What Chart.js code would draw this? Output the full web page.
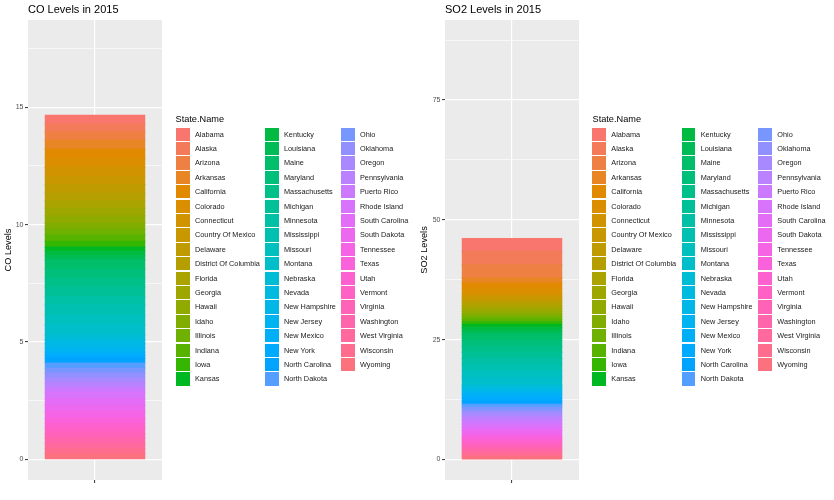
<!DOCTYPE html>
<html>
<head>
<meta charset="utf-8">
<script src="https://cdn.jsdelivr.net/npm/chart.js@4"></script>
<style>
  body { margin: 0; background: #fff; width: 834px; height: 500px; overflow: hidden; position: relative;
         font-family: "Liberation Sans", Arial, sans-serif; }
  canvas { position: absolute; top: 0; }
  .legend { position: absolute; top: 0; left: 0; width: 834px; height: 500px; will-change: transform; }
  .legend .ttl { position: absolute; font-size: 9.2px; color: #000; line-height: 12px; }
  .legend .key { position: absolute; width: 13.6px; height: 13.4px; }
  .legend .lab { position: absolute; font-size: 7.3px; color: #1a1a1a; line-height: 10px; white-space: nowrap; }
</style>
</head>
<body>
<canvas id="co" width="165" height="500" style="left:0"></canvas>
<canvas id="so2" width="167" height="500" style="left:415px"></canvas>
<div class="legend" id="legCo"></div>
<div class="legend" id="legSo2"></div>
<script>
const states = [
  "Alabama", "Alaska", "Arizona", "Arkansas", "California", "Colorado", "Connecticut",
  "Country Of Mexico", "Delaware", "District Of Columbia", "Florida", "Georgia", "Hawaii",
  "Idaho", "Illinois", "Indiana", "Iowa", "Kansas", "Kentucky", "Louisiana", "Maine",
  "Maryland", "Massachusetts", "Michigan", "Minnesota", "Mississippi", "Missouri", "Montana",
  "Nebraska", "Nevada", "New Hampshire", "New Jersey", "New Mexico", "New York",
  "North Carolina", "North Dakota", "Ohio", "Oklahoma", "Oregon", "Pennsylvania",
  "Puerto Rico", "Rhode Island", "South Carolina", "South Dakota", "Tennessee", "Texas",
  "Utah", "Vermont", "Virginia", "Washington", "West Virginia", "Wisconsin", "Wyoming"
];

// mean CO per state (stacked, Alabama on top)
const coLevels = [
  0.36, 0.35, 0.36, 0.38, 0.40, 0.37, 0.37, 0.36, 0.37, 0.33, 0.31, 0.32, 0.32,
  0.26, 0.25, 0.26, 0.25, 0.18, 0.19, 0.18, 0.38, 0.39, 0.38, 0.39, 0.38,
  0.43, 0.42, 0.43, 0.18, 0.18, 0.18, 0.18, 0.13, 0.13, 0.21, 0.22, 0.21, 0.21,
  0.20, 0.20, 0.20, 0.28, 0.28, 0.27, 0.28, 0.21, 0.21, 0.22, 0.21, 0.22, 0.23, 0.22, 0.23
];

// mean SO2 per state
const so2Levels = [
  2.7, 2.8, 2.7, 1.1, 1.2, 1.1, 0.6, 0.6, 0.6, 0.6, 0.6, 0.6, 0.6,
  0.52, 0.53, 0.52, 0.53, 0.7, 0.7, 0.7, 1.26, 1.26, 1.26, 1.26, 1.26,
  1.4, 1.4, 1.4, 0.52, 0.53, 0.52, 0.53, 0.7, 0.7, 0.6, 0.6, 0.6, 0.6,
  0.77, 0.76, 0.77, 0.7, 0.7, 0.7, 0.7, 0.57, 0.58, 0.57, 0.58, 0.57, 0.58, 0.57, 0.58
];

const coMajor = [0, 5, 10, 15];
const coMinor = [2.5, 7.5, 12.5, 17.5];
const coRange = [-0.88, 18.72];

const so2Major = [0, 25, 50, 75];
const so2Minor = [12.5, 37.5, 62.5, 87.5];
const so2Range = [-4.3, 91.7];

// ggplot2 default hue palette (hcl, c=100, l=65)
function hcl(h, c, l) {
  const hr = h * Math.PI / 180;
  const u = c * Math.cos(hr), v = c * Math.sin(hr);
  const Xn = 95.047, Yn = 100, Zn = 108.883;
  const den = Xn + 15 * Yn + 3 * Zn;
  const un = 4 * Xn / den, vn = 9 * Yn / den;
  const Y = l > 8 ? Yn * Math.pow((l + 16) / 116, 3) : Yn * l / 903.3;
  const up = u / (13 * l) + un, vp = v / (13 * l) + vn;
  const X = 9 * Y * up / (4 * vp);
  const Z = 3 * Y / vp - X / 3 - 5 * Y;
  const x = X / 100, y = Y / 100, z = Z / 100;
  const lin = [
    3.2404542 * x - 1.5371385 * y - 0.4985314 * z,
    -0.9692660 * x + 1.8760108 * y + 0.0415560 * z,
    0.0556434 * x - 0.2040259 * y + 1.0572252 * z
  ];
  const out = lin.map(c0 => {
    const g = c0 <= 0.0031308 ? 12.92 * c0 : 1.055 * Math.pow(c0, 1 / 2.4) - 0.055;
    return Math.round(Math.min(1, Math.max(0, g)) * 255);
  });
  return `rgb(${out[0]}, ${out[1]}, ${out[2]})`;
}
const colors = states.map((s, i) => hcl(15 + 360 * i / states.length, 100, 65));

// grey panel + left aligned title
const panelPlugin = {
  id: 'panel',
  beforeDraw(chart, args, opts) {
    const { ctx, chartArea: a } = chart;
    ctx.save();
    ctx.fillStyle = '#EBEBEB';
    ctx.fillRect(a.left, a.top, a.right - a.left, a.bottom - a.top);
    ctx.restore();
  },
  afterDraw(chart, args, opts) {
    const { ctx, chartArea: a } = chart;
    ctx.save();
    ctx.font = '11px "Liberation Sans", Arial, sans-serif';
    ctx.fillStyle = '#000';
    ctx.textBaseline = 'middle';
    ctx.fillText(opts.text, a.left, 9.5);
    ctx.restore();
  }
};

function makeChart(id, title, axisTitle, values, major, minor, range, yWidth, titlePad) {
  // datasets reversed so the first state sits on top of the stack
  const datasets = states.map((s, i) => ({
    label: s,
    data: [values[i]],
    backgroundColor: colors[i],
    borderWidth: 0,
    inflateAmount: 0.6,
    barPercentage: 0.741,
    categoryPercentage: 1
  })).reverse();

  return new Chart(document.getElementById(id), {
    type: 'bar',
    data: { labels: [''], datasets: datasets },
    plugins: [panelPlugin],
    options: {
      responsive: false,
      animation: false,
      layout: { padding: { top: 20, right: 3, bottom: 0, left: 0 } },
      plugins: {
        legend: { display: false },
        tooltip: { enabled: false },
        panel: { text: title }
      },
      scales: {
        x: {
          stacked: true,
          grid: { offset: false, color: '#fff', lineWidth: 1.2, tickColor: '#333', tickLength: 3, tickWidth: 1 },
          border: { display: false },
          ticks: { display: true, padding: 0, font: { size: 7 } },
          afterFit: s => { s.height = 20; }
        },
        y: {
          stacked: true,
          min: range[0],
          max: range[1],
          afterBuildTicks: s => {
            s.ticks = major.concat(minor).sort((a, b) => a - b).map(v => ({ value: v }));
          },
          afterFit: s => { s.width = yWidth; },
          grid: {
            color: '#fff',
            lineWidth: c => major.includes(c.tick.value) ? 1.2 : 0.6,
            tickColor: c => major.includes(c.tick.value) ? '#333' : 'rgba(0,0,0,0)',
            tickLength: 3,
            tickWidth: 1
          },
          border: { display: false },
          ticks: {
            autoSkip: false,
            padding: 1.5,
            color: '#4D4D4D',
            font: { family: '"Liberation Sans", Arial, sans-serif', size: 7 },
            callback: v => major.includes(v) ? String(v) : ''
          },
          title: {
            display: true,
            text: axisTitle,
            color: '#000',
            padding: { top: titlePad, bottom: 0 },
            font: { family: '"Liberation Sans", Arial, sans-serif', size: 9.2 }
          }
        }
      }
    }
  });
}

makeChart('co', 'CO Levels in 2015', 'CO Levels', coLevels, coMajor, coMinor, coRange, 28, 2.6);
makeChart('so2', 'SO2 Levels in 2015', 'SO2 Levels', so2Levels, so2Major, so2Minor, so2Range, 30, 4);

// ggplot style legend: 3 columns, 18 rows, filled column first
function makeLegend(id, left, colX) {
  const el = document.getElementById(id);
  const t = document.createElement('div');
  t.className = 'ttl';
  t.textContent = 'State.Name';
  t.style.left = left + 'px';
  t.style.top = '113px';
  el.appendChild(t);
  states.forEach((s, i) => {
    const col = Math.floor(i / 18), row = i % 18;
    const y = 127.5 + 14.4 * row;
    const k = document.createElement('div');
    k.className = 'key';
    k.style.left = colX[col] + 'px';
    k.style.top = y + 'px';
    k.style.background = colors[i];
    el.appendChild(k);
    const l = document.createElement('div');
    l.className = 'lab';
    l.textContent = s;
    l.style.left = (colX[col] + 19) + 'px';
    l.style.top = (y + 2) + 'px';
    el.appendChild(l);
  });
}
makeLegend('legCo', 175.5, [176, 265, 341]);
makeLegend('legSo2', 592.5, [592.3, 681.7, 758.3]);
</script>
</body>
</html>
